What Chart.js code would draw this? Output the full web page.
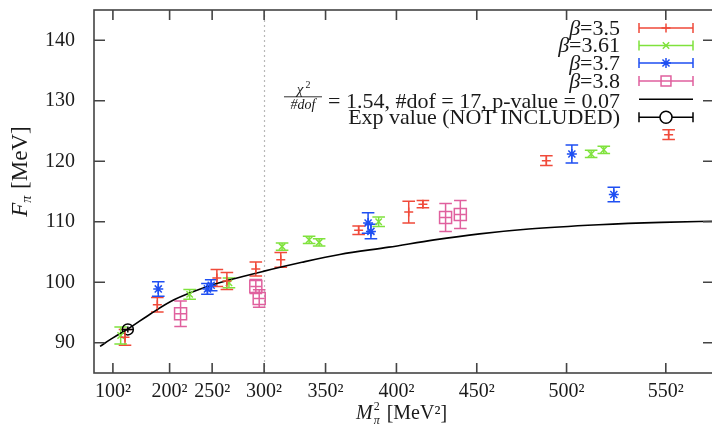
<!DOCTYPE html>
<html>
<head>
<meta charset="utf-8">
<script src="https://cdn.jsdelivr.net/npm/chart.js@4.4.1/dist/chart.umd.min.js"></script>
<style>
  html, body { margin: 0; padding: 0; background: #fff; overflow: hidden; }
  #wrap { width: 712px; height: 429px; overflow: hidden; }
  canvas { display: block; }
</style>
</head>
<body>
<div id="wrap"><canvas id="chart" width="724" height="429"></canvas></div>
<script>
// axis ticks (x is M_pi^2 in MeV^2)
var xTickValues = [10000, 40000, 62500, 90000, 122500, 160000, 202500, 250000, 302500];
var xTickLabels = ['100\u00b2', '200\u00b2', '250\u00b2', '300\u00b2', '350\u00b2', '400\u00b2', '450\u00b2', '500\u00b2', '550\u00b2'];
var yTickValues = [90, 100, 110, 120, 130, 140];

// [M_pi^2, F_pi, error]
var beta35 = [
  [16400, 90.9, 1.3], [33500, 96.3, 1.2], [65000, 100.7, 1.4], [70300, 100.2, 1.4],
  [85600, 102.2, 1.15], [98800, 103.7, 1.2], [140000, 108.6, 0.7], [166500, 111.6, 1.8],
  [174000, 112.9, 0.6], [239300, 120.1, 0.8], [304000, 124.4, 0.8]
];
var beta361 = [
  [14100, 91.2, 1.4], [50600, 98.0, 0.8], [71400, 99.9, 0.8], [99500, 105.9, 0.6],
  [113800, 107.0, 0.6], [119100, 106.6, 0.6], [150600, 110.0, 0.8], [263000, 121.2, 0.6],
  [269700, 121.9, 0.6]
];
var beta37 = [
  [34000, 98.9, 1.2], [60000, 98.9, 0.9], [62000, 99.5, 0.9], [145000, 109.8, 1.7],
  [146500, 108.4, 1.2], [252800, 121.2, 1.5], [275000, 114.5, 1.2]
];
var beta38 = [
  [45800, 94.8, 2.1], [85600, 99.3, 1.15], [87400, 97.3, 1.45], [186000, 110.7, 2.3],
  [193800, 111.2, 2.3]
];
var expValue = [[17900, 92.2, 0.5]];

// fit curve
var fitX = [3200, 10000, 17600, 30000, 42300, 60000, 71900, 89500, 110000, 130000, 156000, 180000, 204000, 230000, 267000, 300000, 330000];
var fitY = [89.4, 90.8, 92.2, 94.8, 97.1, 99.3, 100.4, 101.8, 103.3, 104.6, 105.8, 107.0, 108.0, 108.8, 109.5, 109.9, 110.1];

var RED = '#f04a3a', GREEN = '#7fe23c', BLUE = '#1f4ff2', PINK = '#e0609e';
var SERIF = '"Liberation Serif", "DejaVu Serif", serif';

function toPoints(rows) {
  return rows.map(function (r) { return { x: r[0], y: r[1], e: r[2] }; });
}

var fitPoints = fitX.map(function (x, i) { return { x: x, y: fitY[i] }; });

var series = [
  { label: '\u03b2=3.5', rows: beta35, color: RED, style: 'cross', radius: 4.5 },
  { label: '\u03b2=3.61', rows: beta361, color: GREEN, style: 'crossRot', radius: 4.5 },
  { label: '\u03b2=3.7', rows: beta37, color: BLUE, style: 'star', radius: 5 },
  { label: '\u03b2=3.8', rows: beta38, color: PINK, style: 'rect', radius: 8.5 }
];

var datasets = series.map(function (s) {
  return {
    label: s.label,
    data: toPoints(s.rows),
    borderColor: s.color,
    backgroundColor: 'rgba(0,0,0,0)',
    pointStyle: s.style,
    pointRadius: s.radius,
    pointBorderWidth: 1.5,
    showLine: false,
    errColor: s.color
  };
});
datasets.push({
  label: 'fit',
  type: 'line',
  data: fitPoints,
  borderColor: '#000',
  borderWidth: 1.6,
  pointRadius: 0,
  showLine: true,
  fill: false,
  cubicInterpolationMode: 'monotone'
});
datasets.push({
  label: 'exp',
  data: toPoints(expValue),
  borderColor: '#000',
  backgroundColor: 'rgba(0,0,0,0)',
  pointStyle: 'circle',
  pointRadius: 5.5,
  pointBorderWidth: 1.5,
  showLine: false,
  errColor: '#000',
  crossInside: true
});

function drawMarker(ctx, style, x, y, r, color) {
  ctx.save();
  ctx.strokeStyle = color;
  ctx.fillStyle = 'rgba(0,0,0,0)';
  ctx.lineWidth = 1.5;
  Chart.helpers.drawPoint(ctx, { pointStyle: style, radius: r, rotation: 0, borderWidth: 1.5 }, x, y);
  ctx.restore();
}

var decorations = {
  id: 'decorations',
  beforeDatasetsDraw: function (chart) {
    var ctx = chart.ctx, a = chart.chartArea;
    var xs = chart.scales.x, ys = chart.scales.y;

    // dotted marker at 300^2
    var px = Math.round(xs.getPixelForValue(90000)) + 0.5;
    ctx.save();
    ctx.strokeStyle = '#b8b8b8';
    ctx.lineWidth = 1.2;
    ctx.setLineDash([2, 3]);
    ctx.beginPath();
    ctx.moveTo(px, a.top);
    ctx.lineTo(px, a.bottom);
    ctx.stroke();
    ctx.restore();

    // error bars
    ctx.save();
    ctx.lineWidth = 1.5;
    chart.data.datasets.forEach(function (ds) {
      if (!ds.errColor) return;
      ctx.strokeStyle = ds.errColor;
      ds.data.forEach(function (p) {
        var cx = xs.getPixelForValue(p.x);
        var y1 = ys.getPixelForValue(p.y - p.e);
        var y2 = ys.getPixelForValue(p.y + p.e);
        ctx.beginPath();
        ctx.moveTo(cx, y1); ctx.lineTo(cx, y2);
        if (!ds.crossInside) {
          ctx.moveTo(cx - 6.3, y1); ctx.lineTo(cx + 6.3, y1);
          ctx.moveTo(cx - 6.3, y2); ctx.lineTo(cx + 6.3, y2);
        }
        if (ds.pointStyle === 'rect' || ds.crossInside) {
          var cy = ys.getPixelForValue(p.y);
          ctx.moveTo(cx - 5.5, cy); ctx.lineTo(cx + 5.5, cy);
        }
        ctx.stroke();
      });
    });
    ctx.restore();
  },
  afterDraw: function (chart) {
    var ctx = chart.ctx, a = chart.chartArea;
    var xs = chart.scales.x, ys = chart.scales.y;

    // frame and inward ticks on all four sides
    ctx.save();
    ctx.strokeStyle = '#444';
    ctx.lineWidth = 1.6;
    ctx.strokeRect(a.left, a.top, a.right - a.left, a.bottom - a.top);
    ctx.beginPath();
    xTickValues.forEach(function (v) {
      var px = xs.getPixelForValue(v);
      ctx.moveTo(px, a.bottom); ctx.lineTo(px, a.bottom - 10);
      ctx.moveTo(px, a.top); ctx.lineTo(px, a.top + 10);
    });
    yTickValues.forEach(function (v) {
      var py = ys.getPixelForValue(v);
      ctx.moveTo(a.left, py); ctx.lineTo(a.left + 11, py);
      ctx.moveTo(a.right, py); ctx.lineTo(a.right - 11, py);
    });
    ctx.stroke();
    ctx.restore();

    ctx.save();
    ctx.fillStyle = '#1a1a1a';

    // y axis title: F_pi [MeV]
    ctx.save();
    ctx.translate(21, 172);
    ctx.rotate(-Math.PI / 2);
    ctx.textBaseline = 'middle';
    ctx.font = 'italic 23px ' + SERIF;
    var wF = ctx.measureText('F').width;
    ctx.font = 'italic 14px ' + SERIF;
    var wPi = ctx.measureText('\u03c0').width;
    ctx.font = '23px ' + SERIF;
    var wRest = ctx.measureText(' [MeV]').width;
    var x0 = -(wF + wPi + wRest) / 2;
    ctx.font = 'italic 23px ' + SERIF;
    ctx.fillText('F', x0, 0);
    ctx.font = 'italic 14px ' + SERIF;
    ctx.fillText('\u03c0', x0 + wF, 6);
    ctx.font = '23px ' + SERIF;
    ctx.fillText(' [MeV]', x0 + wF + wPi + 1, 0);
    ctx.restore();

    // x axis title: M_pi^2 [MeV^2]
    ctx.textBaseline = 'alphabetic';
    var bx = 356, by = 419;
    ctx.font = 'italic 20px ' + SERIF;
    ctx.fillText('M', bx, by);
    var wM = ctx.measureText('M').width;
    ctx.font = '12px ' + SERIF;
    ctx.fillText('2', bx + wM + 1, by - 9);
    ctx.font = 'italic 12px ' + SERIF;
    ctx.fillText('\u03c0', bx + wM + 1, by + 5);
    ctx.font = '20px ' + SERIF;
    ctx.fillText('[MeV\u00b2]', bx + wM + 14, by);

    // key, inside the plot at top right
    var textRight = 620, s1 = 639, s2 = 693, sm = 666;
    var rowY = [28, 45.5, 63, 81, 99.3, 117.3];
    ctx.textBaseline = 'middle';
    series.forEach(function (s, i) {
      var y = rowY[i];
      var parts = s.label.split('=');
      ctx.font = '22px ' + SERIF;
      var wNum = ctx.measureText('=' + parts[1]).width;
      ctx.fillText('=' + parts[1], textRight - wNum, y + 1);
      ctx.font = 'italic 22px ' + SERIF;
      var wB = ctx.measureText('\u03b2').width;
      ctx.fillText('\u03b2', textRight - wNum - wB, y + 1);

      ctx.save();
      ctx.strokeStyle = s.color;
      ctx.lineWidth = 1.5;
      ctx.beginPath();
      ctx.moveTo(s1, y); ctx.lineTo(s2, y);
      ctx.moveTo(s1, y - 5); ctx.lineTo(s1, y + 5);
      ctx.moveTo(s2, y - 5); ctx.lineTo(s2, y + 5);
      ctx.stroke();
      ctx.restore();
      drawMarker(ctx, s.style, sm, y, s.style === 'rect' ? 7 : s.radius, s.color);
    });

    // fit row
    var yf = rowY[4];
    ctx.font = '22px ' + SERIF;
    var fitText = '= 1.54, #dof = 17, p-value = 0.07';
    var wFit = ctx.measureText(fitText).width;
    ctx.fillText(fitText, textRight - wFit, yf + 3);
    var fracR = textRight - wFit - 6, fracL = fracR - 38;
    ctx.save();
    ctx.strokeStyle = '#1a1a1a';
    ctx.lineWidth = 0.9;
    ctx.beginPath();
    ctx.moveTo(fracL, yf - 2.5); ctx.lineTo(fracR, yf - 2.5);
    ctx.stroke();
    ctx.restore();
    ctx.textAlign = 'center';
    ctx.font = 'italic 15px ' + SERIF;
    ctx.fillText('\u03c7', (fracL + fracR) / 2 - 3, yf - 9);
    ctx.font = '10px ' + SERIF;
    ctx.fillText('2', (fracL + fracR) / 2 + 5, yf - 14);
    ctx.font = 'italic 14px ' + SERIF;
    ctx.fillText('#dof', (fracL + fracR) / 2, yf + 6);
    ctx.textAlign = 'left';
    ctx.save();
    ctx.strokeStyle = '#000';
    ctx.lineWidth = 1.6;
    ctx.beginPath();
    ctx.moveTo(s1, yf); ctx.lineTo(s2, yf);
    ctx.stroke();
    ctx.restore();

    // exp row
    var ye = rowY[5];
    ctx.font = '22px ' + SERIF;
    var expText = 'Exp value (NOT INCLUDED)';
    ctx.fillText(expText, textRight - ctx.measureText(expText).width, ye + 1);
    ctx.save();
    ctx.strokeStyle = '#000';
    ctx.lineWidth = 1.5;
    ctx.beginPath();
    ctx.moveTo(s1, ye); ctx.lineTo(sm - 6, ye);
    ctx.moveTo(sm + 6, ye); ctx.lineTo(s2, ye);
    ctx.moveTo(s1, ye - 5); ctx.lineTo(s1, ye + 5);
    ctx.moveTo(s2, ye - 5); ctx.lineTo(s2, ye + 5);
    ctx.stroke();
    ctx.restore();
    drawMarker(ctx, 'circle', sm, ye, 6, '#000');

    ctx.restore();
  }
};

new Chart(document.getElementById('chart'), {
  type: 'scatter',
  data: { datasets: datasets },
  plugins: [decorations],
  options: {
    responsive: false,
    animation: false,
    events: [],
    layout: { padding: { top: 9, right: 6, left: 0, bottom: 0 } },
    plugins: { legend: { display: false }, tooltip: { enabled: false } },
    scales: {
      x: {
        type: 'linear',
        min: 0,
        max: 328000,
        grid: { display: false, drawTicks: false },
        border: { display: false },
        afterBuildTicks: function (scale) {
          scale.ticks = xTickValues.map(function (v) { return { value: v }; });
        },
        afterFit: function (scale) {
          scale.height = 56;
          scale.paddingLeft = 0;
          scale.paddingRight = 0;
        },
        ticks: {
          autoSkip: false,
          maxRotation: 0,
          padding: 7,
          color: '#1a1a1a',
          font: { family: SERIF, size: 20 },
          callback: function (value) {
            var i = xTickValues.indexOf(value);
            return i >= 0 ? xTickLabels[i] : '';
          }
        }
      },
      y: {
        min: 85,
        max: 145,
        grid: { display: false, drawTicks: false },
        border: { display: false },
        afterBuildTicks: function (scale) {
          scale.ticks = yTickValues.map(function (v) { return { value: v }; });
        },
        afterFit: function (scale) {
          scale.width = 94;
          scale.paddingTop = 0;
          scale.paddingBottom = 0;
        },
        ticks: {
          padding: 19,
          color: '#1a1a1a',
          font: { family: SERIF, size: 20 }
        }
      }
    }
  }
});
</script>
</body>
</html>
